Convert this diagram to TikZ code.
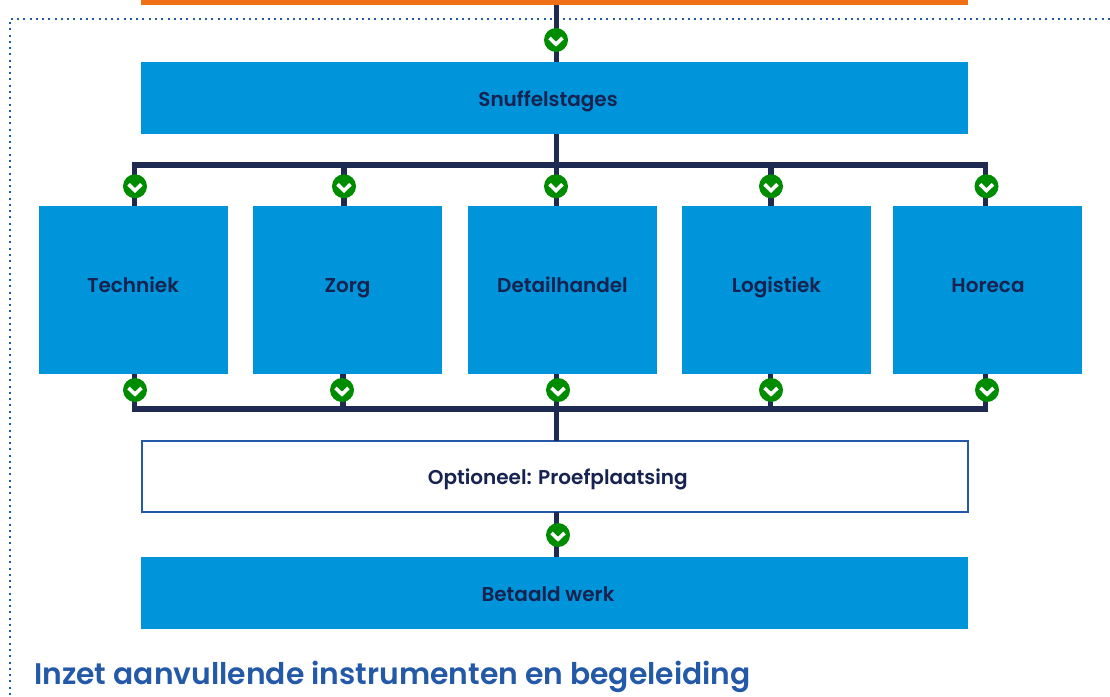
\documentclass[tikz,border=0pt]{standalone}
\usepackage{fontspec}
\setmainfont[UprightFont=* Medium,BoldFont=* SemiBold]{Poppins}
\definecolor{cblue}{HTML}{0095DA}
\definecolor{cnavy}{HTML}{1F2A52}
\definecolor{ctext}{HTML}{16224F}
\definecolor{cgreen}{HTML}{008C00}
\definecolor{chead}{HTML}{2459A8}
\definecolor{corange}{HTML}{F07018}
\tikzset{
  boxbase/.style={anchor=north west,inner sep=0pt,outer sep=0pt},
  bluebox/.style={boxbase,fill=cblue},
  lbl/.style={text=ctext,font=\fontsize{20}{22}\selectfont\bfseries,inner sep=0pt,text height=14pt,text depth=0pt},
  conn/.style={draw=cnavy,line width=5.2pt,line cap=butt,line join=miter},
  dots/.style={draw=chead,line width=2pt,dash pattern=on 2pt off 4.27pt},
  chk/.style={circle,fill=cgreen,minimum size=24pt,inner sep=0pt,outer sep=0pt,
    path picture={\draw[white,line width=3.6pt,line cap=butt,line join=miter]
      ([shift={(-6.5,-2)}]path picture bounding box.center) --
      ([shift={(0,4.2)}]path picture bounding box.center) --
      ([shift={(6.5,-2)}]path picture bounding box.center);}}
}
\begin{document}
\begin{tikzpicture}[x=1pt,y=-1pt]
\useasboundingbox (0,0) rectangle (1110,696);
% dotted frame
\coordinate (fa) at (1110,18.5);
\coordinate (fb) at (10,18.5);
\coordinate (fc) at (10,696);
\draw[dots] (fa) -- (fb) -- (fc);
% boxes
\node[boxbase,fill=corange,minimum width=827pt,minimum height=5pt] (orange) at (141,0) {};
\node[bluebox,minimum width=827pt,minimum height=72pt,label={[lbl,xshift=-6.5pt,yshift=-1pt]center:Snuffelstages}] (snuf) at (141,62) {};
\node[bluebox,minimum width=189pt,minimum height=168pt,label={[lbl,xshift=-0.5pt,yshift=5pt]center:Techniek}] (b1) at (39,206) {};
\node[bluebox,minimum width=189pt,minimum height=168pt,label={[lbl,yshift=5pt]center:Zorg}] (b2) at (253,206) {};
\node[bluebox,minimum width=189pt,minimum height=168pt,label={[lbl,yshift=5pt]center:Detailhandel}] (b3) at (468,206) {};
\node[bluebox,minimum width=189pt,minimum height=168pt,label={[lbl,yshift=5pt]center:Logistiek}] (b4) at (682,206) {};
\node[bluebox,minimum width=189pt,minimum height=168pt,label={[lbl,xshift=0.5pt,yshift=5pt]center:Horeca}] (b5) at (893,206) {};
\node[boxbase,fill=white,draw=chead,line width=2pt,minimum width=826.5pt,minimum height=71pt,label={[lbl,xshift=3pt,yshift=-1pt]center:Optioneel: Proefplaatsing}] (opt) at (141.5,440.5) {};
\node[bluebox,minimum width=827pt,minimum height=72pt,label={[lbl,xshift=-6.5pt,yshift=-1pt]center:Betaald werk}] (werk) at (141,557) {};
% bus coordinates
\coordinate (tb) at (556.3,165);
\coordinate (lb) at (556.7,409);
% connectors
\draw[conn] (556.3,5 |- orange.south) -- (556.3,62 |- snuf.north);
\draw[conn] (556.3,134 |- snuf.south) -- (tb);
\draw[conn] (134.8,206 |- b1.north) -- (134.8,165 |- tb) -- (985.3,165 |- tb) -- (985.3,206 |- b5.north);
\draw[conn] (344,165 |- tb) -- (344,206 |- b2.north);
\draw[conn] (tb) -- (556.3,206 |- b3.north);
\draw[conn] (771,165 |- tb) -- (771,206 |- b4.north);
\draw[conn] (134.3,374 |- b1.south) -- (134.3,409 |- lb) -- (985.8,409 |- lb) -- (985.8,374 |- b5.south);
\draw[conn] (343,374 |- b2.south) -- (343,409 |- lb);
\draw[conn] (556.7,374 |- b3.south) -- (lb);
\draw[conn] (770.5,374 |- b4.south) -- (770.5,409 |- lb);
\draw[conn] (lb) -- (556.7,440 |- opt.north);
\draw[conn] (556.7,512 |- opt.south) -- (556.7,557 |- werk.north);
% check marks
\node[chk] (c0) at (556,40) {};
\node[chk] (t1) at (135,186.3) {};
\node[chk] (t2) at (344,186.3) {};
\node[chk] (t3) at (556,186.3) {};
\node[chk] (t4) at (771,186.3) {};
\node[chk] (t5) at (986.5,186.3) {};
\node[chk] (u1) at (135,390) {};
\node[chk] (u2) at (342,390) {};
\node[chk] (u3) at (558,390) {};
\node[chk] (u4) at (771,390) {};
\node[chk] (u5) at (987,390) {};
\node[chk] (c6) at (558,535) {};
% heading
\node[anchor=base west,inner sep=0pt,text=chead,font=\fontsize{29.8}{34}\selectfont\bfseries] (head) at (34,684) {Inzet aanvullende instrumenten en begeleiding};
\end{tikzpicture}
\end{document}
